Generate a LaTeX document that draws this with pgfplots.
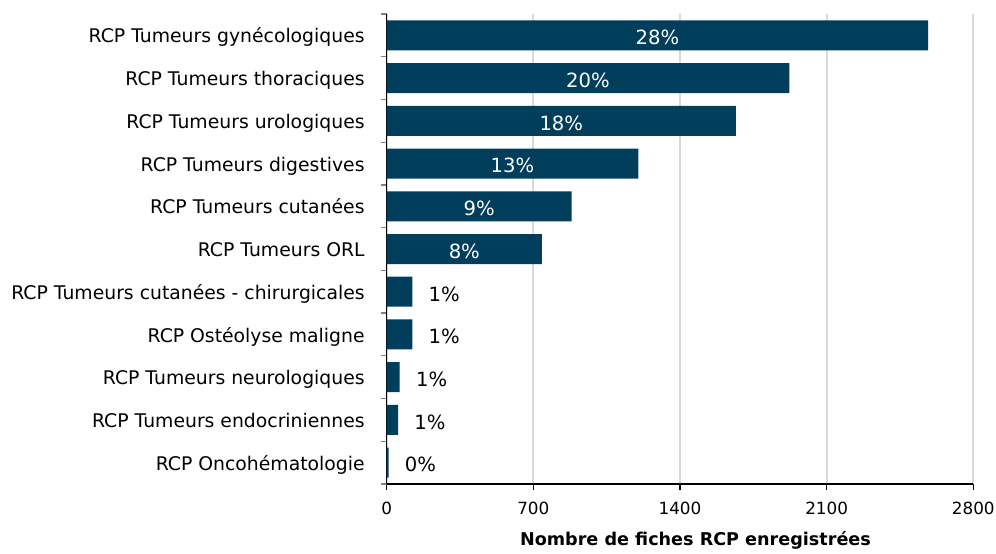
\documentclass[border=0pt]{standalone}
\usepackage{pgfplots}
\pgfplotsset{compat=1.18}
\usepackage{pgfplotstable}
\usepackage{fontspec}
\setmainfont{DejaVu Sans}
\definecolor{barblue}{RGB}{0,62,92}
\definecolor{gridgray}{RGB}{217,217,217}
\definecolor{tickgray}{RGB}{128,128,128}

\pgfplotstableread{
idx n pct
10 2584 28
9 1922 20
8 1667 18
7 1201 13
6 883 9
5 741 8
}\bigbars
\pgfplotstableread{
idx n pct
4 122 1
3 122 1
2 62 1
1 54 1
0 9 0
}\smallbars

\begin{document}
\begin{tikzpicture}
\useasboundingbox (-193.35pt,-34.5pt) rectangle (304.65pt,242pt);
\begin{axis}[
  scale only axis, width=293.3pt, height=235pt,
  at={(0,0)}, anchor=south west,
  xmin=0, xmax=2800, ymin=-0.5, ymax=10.5,
  axis x line*=bottom, axis y line*=left,
  axis line style={black, line width=0.6pt},
  xtick={0,700,1400,2100,2800},
  ytick={0,...,10},
  yticklabels={RCP Oncohématologie, RCP Tumeurs endocriniennes, RCP Tumeurs neurologiques, RCP Ostéolyse maligne, RCP Tumeurs cutanées - chirurgicales, RCP Tumeurs ORL, RCP Tumeurs cutanées, RCP Tumeurs digestives, RCP Tumeurs urologiques, RCP Tumeurs thoraciques, RCP Tumeurs gynécologiques},
  minor ytick={-0.5,0.5,...,10.5},
  tick align=outside,
  major tick length=3pt, minor tick length=3pt,
  major x tick style={black, line width=0.6pt},
  major y tick style={draw=none},
  minor y tick style={tickgray, line width=0.6pt},
  xmajorgrids,
  major x grid style={gridgray, line width=0.9pt},
  /pgf/number format/assume math mode=true,
  /pgf/number format/1000 sep={},
  xticklabel style={font=\fontsize{8.4}{10}\selectfont, inner sep=0pt, yshift=-6pt},
  yticklabel style={font=\fontsize{9.4}{11}\selectfont, anchor=base east, inner sep=0pt, xshift=-7.85pt, yshift=-3.8pt},
  xlabel={Nombre de fiches RCP enregistrées},
  xlabel style={at={(axis description cs:0.5264,0)}, anchor=base, yshift=-30.5pt, inner sep=0pt, font=\fontsize{8.8}{10}\selectfont\bfseries},
]
\addplot[xbar, bar shift=0pt, bar width=15pt, fill=barblue, draw=none] table[x=n, y=idx] {\bigbars};
\addplot[xbar, bar shift=0pt, bar width=15pt, fill=barblue, draw=none] table[x=n, y=idx] {\smallbars};
\addplot[draw=none, mark=none, point meta=explicit symbolic,
  nodes near coords={\pgfplotspointmeta\%},
  every node near coord/.style={anchor=base, inner sep=0pt, yshift=-4.65pt, text=white, font=\fontsize{9.8}{11}\selectfont}]
  table[x expr=\thisrow{n}/2, y=idx, meta=pct] {\bigbars};
\addplot[draw=none, mark=none, point meta=explicit symbolic,
  nodes near coords={\pgfplotspointmeta\%},
  every node near coord/.style={anchor=base west, inner sep=0pt, xshift=8pt, yshift=-4.65pt, text=black, font=\fontsize{9.8}{11}\selectfont}]
  table[x=n, y=idx, meta=pct] {\smallbars};
\end{axis}
\end{tikzpicture}
\end{document}
